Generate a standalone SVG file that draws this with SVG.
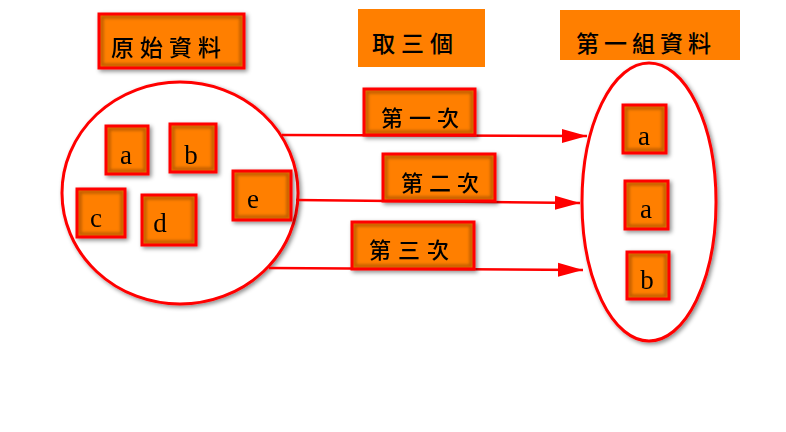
<svg xmlns="http://www.w3.org/2000/svg" width="786" height="432" viewBox="0 0 786 432">
<style>
.cjk{font-family:"Noto Sans CJK TC","Noto Sans CJK SC",sans-serif;font-size:23px;fill:#000;font-weight:500;}
.let{font-family:"Liberation Serif",serif;font-size:27px;fill:#000;text-anchor:middle;}
.fill{fill:#FF7F00;}
.inn{fill:none;stroke:#8a4000;stroke-width:3;stroke-opacity:0.6;filter:url(#soft);}
.bord{fill:none;stroke:#FF0000;stroke-width:3;}
.plain{fill:#FF7F00;}
.ell{fill:#fff;stroke:#FF0000;stroke-width:3;}
.conn{stroke:#FF0000;stroke-width:2.5;fill:none;marker-end:url(#arr);}
.sh{filter:url(#drop);}
</style>
<defs>
<filter id="soft" x="-20%" y="-20%" width="140%" height="140%">
<feGaussianBlur stdDeviation="1.5"/>
</filter>
<filter id="drop" x="-20%" y="-20%" width="140%" height="140%">
<feDropShadow dx="2" dy="2" stdDeviation="2" flood-color="#000" flood-opacity="0.45"/>
</filter>
<marker id="arr" markerUnits="userSpaceOnUse" markerWidth="26" markerHeight="16" refX="25" refY="8" orient="auto">
<path d="M0,1 L25,8 L0,15 Z" fill="#FF0000"/>
</marker>
</defs>

<g id="title-original" class="sh">
<rect class="fill" x="99" y="14" width="145" height="54"/>
<rect class="inn" x="102" y="17" width="139" height="48"/>
<rect class="bord" x="99" y="14" width="145" height="54"/>
<text class="cjk" x="111" y="56" style="letter-spacing:6px">原始資料</text>
</g>
<g id="title-take3">
<rect class="plain" x="358" y="9" width="127" height="58"/>
<text class="cjk" x="372" y="52" style="letter-spacing:6px">取三個</text>
</g>
<g id="title-group1">
<rect class="plain" x="560" y="10" width="180" height="50"/>
<text class="cjk" x="576" y="52" style="letter-spacing:5px">第一組資料</text>
</g>

<g id="left-set" class="sh">
<ellipse class="ell" cx="180" cy="193" rx="118" ry="111"/>
</g>
<g id="right-set" class="sh">
<ellipse class="ell" cx="649" cy="202" rx="67" ry="139"/>
</g>

<g id="connectors">
<line class="conn" x1="282" y1="135" x2="587" y2="136"/>
<line class="conn" x1="296" y1="200" x2="580" y2="203"/>
<line class="conn" x1="269" y1="268" x2="583" y2="270"/>
</g>

<g id="label-1" class="sh">
<rect class="fill" x="364" y="89" width="111" height="46"/>
<rect class="inn" x="367" y="92" width="105" height="40"/>
<rect class="bord" x="364" y="89" width="111" height="46"/>
<text class="cjk" x="381" y="126" style="font-size:22px;letter-spacing:6px">第一次</text>
</g>
<g id="label-2" class="sh">
<rect class="fill" x="383" y="154" width="112" height="47"/>
<rect class="inn" x="386" y="157" width="106" height="41"/>
<rect class="bord" x="383" y="154" width="112" height="47"/>
<text class="cjk" x="401" y="191" style="font-size:22px;letter-spacing:6px">第二次</text>
</g>
<g id="label-3" class="sh">
<rect class="fill" x="352" y="222" width="122" height="47"/>
<rect class="inn" x="355" y="225" width="116" height="41"/>
<rect class="bord" x="352" y="222" width="122" height="47"/>
<text class="cjk" x="369" y="258" style="font-size:22px;letter-spacing:7px">第三次</text>
</g>

<g id="item-a" class="sh">
<rect class="fill" x="106" y="126" width="42" height="48"/>
<rect class="inn" x="109" y="129" width="36" height="42"/>
<rect class="bord" x="106" y="126" width="42" height="48"/>
<text class="let" x="126" y="164">a</text>
</g>
<g id="item-b" class="sh">
<rect class="fill" x="170" y="124" width="46" height="48"/>
<rect class="inn" x="173" y="127" width="40" height="42"/>
<rect class="bord" x="170" y="124" width="46" height="48"/>
<text class="let" x="191" y="164">b</text>
</g>
<g id="item-c" class="sh">
<rect class="fill" x="77" y="189" width="48" height="48"/>
<rect class="inn" x="80" y="192" width="42" height="42"/>
<rect class="bord" x="77" y="189" width="48" height="48"/>
<text class="let" x="96" y="227">c</text>
</g>
<g id="item-d" class="sh">
<rect class="fill" x="142" y="195" width="54" height="50"/>
<rect class="inn" x="145" y="198" width="48" height="44"/>
<rect class="bord" x="142" y="195" width="54" height="50"/>
<text class="let" x="160" y="232">d</text>
</g>
<g id="item-e" class="sh">
<rect class="fill" x="233" y="171" width="58" height="49"/>
<rect class="inn" x="236" y="174" width="52" height="43"/>
<rect class="bord" x="233" y="171" width="58" height="49"/>
<text class="let" x="253" y="208">e</text>
</g>

<g id="res-a1" class="sh">
<rect class="fill" x="623" y="105" width="43" height="48"/>
<rect class="inn" x="626" y="108" width="37" height="42"/>
<rect class="bord" x="623" y="105" width="43" height="48"/>
<text class="let" x="644" y="145">a</text>
</g>
<g id="res-a2" class="sh">
<rect class="fill" x="625" y="181" width="43" height="48"/>
<rect class="inn" x="628" y="184" width="37" height="42"/>
<rect class="bord" x="625" y="181" width="43" height="48"/>
<text class="let" x="646" y="218">a</text>
</g>
<g id="res-b" class="sh">
<rect class="fill" x="627" y="252" width="42" height="47"/>
<rect class="inn" x="630" y="255" width="36" height="41"/>
<rect class="bord" x="627" y="252" width="42" height="47"/>
<text class="let" x="647" y="289">b</text>
</g>
</svg>
